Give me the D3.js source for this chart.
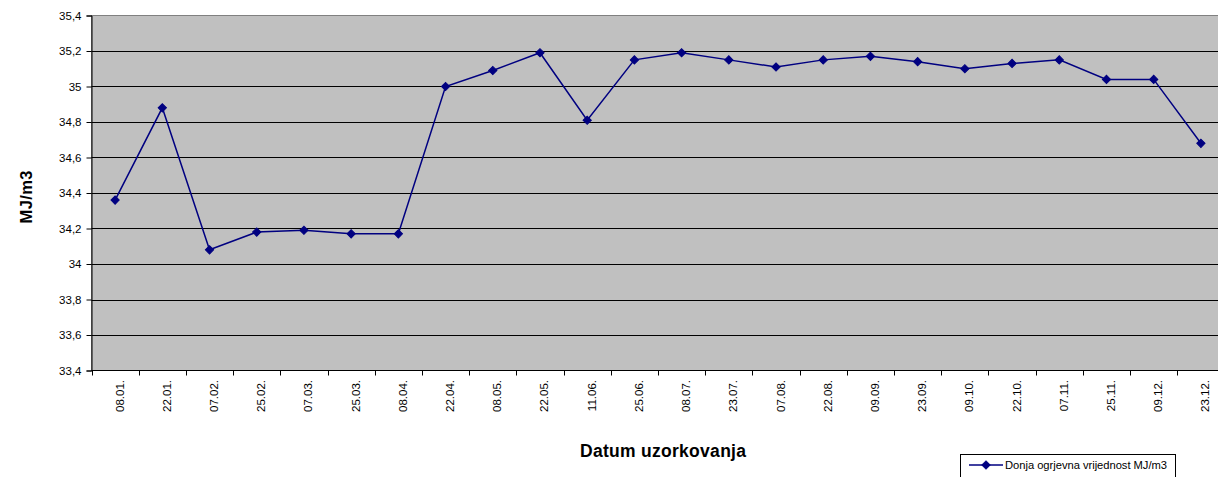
<!DOCTYPE html>
<html>
<head>
<meta charset="utf-8">
<script src="https://cdn.jsdelivr.net/npm/d3@7"></script>
<style>
html,body{margin:0;padding:0;background:#fff;}
svg{display:block;}
text{font-family:Arial,"Liberation Sans",sans-serif;}
</style>
</head>
<body>
<svg id="chart" width="1218" height="477"></svg>
<script>
const categories = ["08.01.","22.01.","07.02.","25.02.","07.03.","25.03.","08.04.","22.04.","08.05.","22.05.","11.06.","25.06.","08.07.","23.07.","07.08.","22.08.","09.09.","23.09.","09.10.","22.10.","07.11.","25.11.","09.12.","23.12."];
const values = [34.36,34.88,34.08,34.18,34.19,34.17,34.17,35.00,35.09,35.19,34.81,35.15,35.19,35.15,35.11,35.15,35.17,35.14,35.10,35.13,35.15,35.04,35.04,34.68];
const yTicks = [33.4,33.6,33.8,34,34.2,34.4,34.6,34.8,35,35.2,35.4];
const seriesName = "Donja ogrjevna vrijednost MJ/m3";
const xTitle = "Datum uzorkovanja";
const yTitle = "MJ/m3";

const svg = d3.select("#chart");
const L = 91.5, R = 1224.5, T = 15.5, B = 370.5;

const x = d3.scaleBand().domain(categories).range([L, R]).padding(0);
const y = d3.scaleLinear().domain([33.4, 35.4]).range([B, T]);
const fmt = v => d3.format(".1f")(v).replace(/\.0$/, "").replace(".", ",");

// plot background
svg.append("rect").attr("x", L).attr("y", T).attr("width", R - L).attr("height", B - T)
  .attr("fill", "#c0c0c0").attr("stroke", "#808080").attr("stroke-width", 1);

// gridlines
svg.append("g").selectAll("line").data(yTicks.filter(d => d > 33.4 && d < 35.4)).join("line")
  .attr("x1", L).attr("x2", R)
  .attr("y1", d => Math.round(y(d)) + 0.5).attr("y2", d => Math.round(y(d)) + 0.5)
  .attr("stroke", "#000").attr("stroke-width", 1);

// y axis
const yAxis = d3.axisLeft(y).tickValues(yTicks).tickFormat(fmt).tickSize(5).tickPadding(5);
const gy = svg.append("g").attr("transform", `translate(${L},0)`).call(yAxis);
gy.select(".domain").attr("stroke", "#000");
gy.selectAll(".tick line").attr("stroke", "#000");
gy.selectAll(".tick text").attr("font-size", 11.5).attr("fill", "#000")
  .attr("font-family", "Arial, 'Liberation Sans', sans-serif");

// x axis baseline and ticks at category boundaries
svg.append("line").attr("x1", L).attr("x2", R).attr("y1", B).attr("y2", B).attr("stroke", "#000");
const bounds = categories.map(c => x(c)).concat([x(categories[categories.length - 1]) + x.bandwidth()]);
svg.append("g").selectAll("line").data(bounds).join("line")
  .attr("x1", d => Math.round(d) + 0.5).attr("x2", d => Math.round(d) + 0.5)
  .attr("y1", B).attr("y2", B + 5).attr("stroke", "#000");

// x labels rotated
svg.append("g").selectAll("text").data(categories).join("text")
  .attr("transform", d => `translate(${x(d) + x.bandwidth() / 2 + 8.5},${B + 9.5}) rotate(-90)`)
  .attr("text-anchor", "end").attr("font-size", 11.5).attr("fill", "#000")
  .text(d => d);

// line
const line = d3.line().x((d, i) => x(categories[i]) + x.bandwidth() / 2).y(d => y(d));
svg.append("path").datum(values).attr("d", line)
  .attr("fill", "none").attr("stroke", "#000080").attr("stroke-width", 1.5);

// markers
const diamond = d3.symbol().type(d3.symbolSquare).size(34);
svg.append("g").selectAll("path").data(values).join("path")
  .attr("d", diamond)
  .attr("transform", (d, i) => `translate(${x(categories[i]) + x.bandwidth() / 2},${y(d)}) rotate(45)`)
  .attr("fill", "#000080").attr("stroke", "#000080").attr("stroke-width", 1);

// axis titles
svg.append("text").attr("x", 580).attr("y", 457)
  .attr("textLength", 166).attr("lengthAdjust", "spacing")
  .attr("font-size", 17.5).attr("font-weight", "bold").attr("fill", "#000").text(xTitle);
svg.append("text").attr("transform", "translate(32,223.5) rotate(-90)")
  .attr("textLength", 53).attr("lengthAdjust", "spacing")
  .attr("font-size", 16.5).attr("font-weight", "bold").attr("fill", "#000").text(yTitle);

// legend
const lg = svg.append("g");
lg.append("rect").attr("x", 960.5).attr("y", 454.5).attr("width", 215).attr("height", 30)
  .attr("fill", "#fff").attr("stroke", "#000").attr("stroke-width", 1);
lg.append("line").attr("x1", 969).attr("x2", 1003).attr("y1", 465).attr("y2", 465)
  .attr("stroke", "#000080").attr("stroke-width", 1.5);
lg.append("path").attr("d", diamond).attr("transform", "translate(986,465) rotate(45)")
  .attr("fill", "#000080").attr("stroke", "#000080");
lg.append("text").attr("x", 1005).attr("y", 469).attr("font-size", 11.2)
  .attr("textLength", 162).attr("lengthAdjust", "spacing").attr("fill", "#000").text(seriesName);
</script>
</body>
</html>
